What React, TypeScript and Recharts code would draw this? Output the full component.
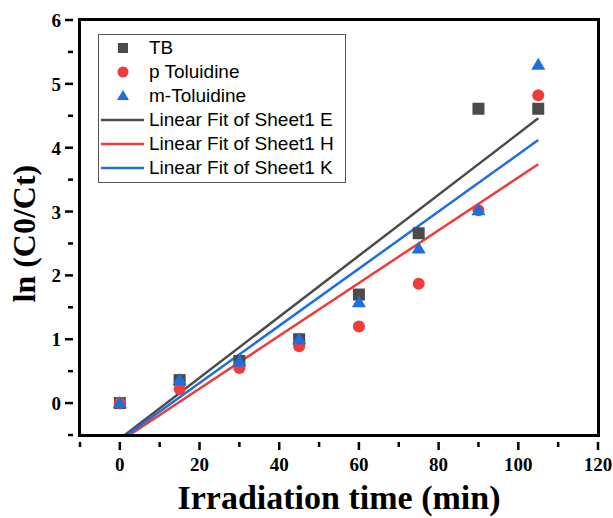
import React from 'react';
import { ComposedChart, Scatter, Line, XAxis, YAxis, Legend } from 'recharts';

const times = [0, 15, 30, 45, 60, 75, 90, 105];
const tbValues = [0, 0.36, 0.66, 1.0, 1.7, 2.66, 4.61, 4.61];
const pToluidineValues = [0, 0.22, 0.55, 0.89, 1.2, 1.87, 3.02, 4.82];
const mToluidineValues = [0, 0.36, 0.65, 1.0, 1.58, 2.42, 3.02, 5.3];

// linear fit end points (x = 0 and x = 105)
const fitX = [0, 105];
const fitE = [-0.56, 4.46];
const fitH = [-0.6, 3.74];
const fitK = [-0.58, 4.12];

const xTicks = [-10, 0, 10, 20, 30, 40, 50, 60, 70, 80, 90, 100, 110, 120];
const yTicks = [-0.5, 0, 0.5, 1, 1.5, 2, 2.5, 3, 3.5, 4, 4.5, 5, 5.5, 6];

const GRAY = '#4b4b4b';
const RED = '#ef3b3b';
const BLUE = '#1d6fdc';

const toPoints = (xs: number[], ys: number[]) => xs.map((x, i) => ({ x, y: ys[i] }));

const tbData = toPoints(times, tbValues);
const pData = toPoints(times, pToluidineValues);
const mData = toPoints(times, mToluidineValues);
const fitEData = toPoints(fitX, fitE);
const fitHData = toPoints(fitX, fitH);
const fitKData = toPoints(fitX, fitK);

const Square = (props: any) => (
  <rect x={props.cx - 6} y={props.cy - 6} width={12} height={12} fill={GRAY} />
);
const Circle = (props: any) => <circle cx={props.cx} cy={props.cy} r={6} fill={RED} />;
const Triangle = (props: any) => (
  <polygon
    points={`${props.cx},${props.cy - 7} ${props.cx + 7},${props.cy + 5} ${props.cx - 7},${props.cy + 5}`}
    fill={BLUE}
  />
);

const XTick = (props: any) => {
  const { x, y, payload } = props;
  const major = payload.value % 20 === 0;
  return (
    <g>
      <line x1={x} x2={x} y1={y - 1} y2={y + (major ? 7 : 4)} stroke="#000" strokeWidth={2.5} />
      {major && (
        <text x={x} y={y + 28} textAnchor="middle" fontFamily="Liberation Serif" fontWeight="bold" fontSize={19} fill="#000">
          {payload.value}
        </text>
      )}
    </g>
  );
};

const YTick = (props: any) => {
  const { x, y, payload } = props;
  const major = Number.isInteger(payload.value);
  return (
    <g>
      <line x1={x + 1} x2={x - (major ? 7 : 4)} y1={y} y2={y} stroke="#000" strokeWidth={2.5} />
      {major && (
        <text x={x - 11} y={y + 7} textAnchor="end" fontFamily="Liberation Serif" fontWeight="bold" fontSize={19} fill="#000">
          {payload.value}
        </text>
      )}
    </g>
  );
};

const legendItems = [
  { label: 'TB', kind: 'square', color: GRAY },
  { label: 'p Toluidine', kind: 'circle', color: RED },
  { label: 'm-Toluidine', kind: 'triangle', color: BLUE },
  { label: 'Linear Fit of Sheet1 E', kind: 'line', color: GRAY },
  { label: 'Linear Fit of Sheet1 H', kind: 'line', color: RED },
  { label: 'Linear Fit of Sheet1 K', kind: 'line', color: BLUE },
];

const LegendBox = () => (
  <div
    style={{
      border: '1px solid #555',
      background: '#fff',
      width: 248,
      height: 149,
      boxSizing: 'border-box',
      paddingTop: 1,
      fontFamily: 'Liberation Sans, Arial, sans-serif',
      fontSize: 19,
      lineHeight: '24px',
      color: '#000',
    }}
  >
    {legendItems.map((item) => (
      <div key={item.label} style={{ display: 'flex', alignItems: 'center', height: 24 }}>
        <svg width={50} height={24} style={{ flex: 'none' }}>
          {item.kind === 'square' && <rect x={19} y={7} width={10} height={10} fill={item.color} />}
          {item.kind === 'circle' && <circle cx={24} cy={12} r={5.5} fill={item.color} />}
          {item.kind === 'triangle' && <polygon points="24,6 30,16 18,16" fill={item.color} />}
          {item.kind === 'line' && <line x1={2} x2={45} y1={12} y2={12} stroke={item.color} strokeWidth={2.5} />}
        </svg>
        <span style={{ whiteSpace: 'nowrap' }}>{item.label}</span>
      </div>
    ))}
  </div>
);

export default function App() {
  return (
    <div style={{ width: 613, height: 518, position: 'relative', background: '#fff' }}>
      <style>{`body { margin: 0; }`}</style>
      <ComposedChart width={613} height={518} margin={{ top: 20, right: 15, bottom: 0, left: 20 }}>
        <XAxis
          type="number"
          dataKey="x"
          domain={[-10, 120]}
          ticks={xTicks}
          interval={0}
          allowDataOverflow
          axisLine={false}
          tickLine={false}
          tick={<XTick />}
          height={83}
          label={{
            value: 'Irradiation time (min)',
            position: 'insideBottom',
            offset: 9,
            style: { fontFamily: 'Liberation Serif', fontWeight: 'bold', fontSize: 34, fill: '#000' },
          }}
        />
        <YAxis
          type="number"
          dataKey="y"
          domain={[-0.5, 6]}
          ticks={yTicks}
          interval={0}
          allowDataOverflow
          axisLine={false}
          tickLine={false}
          tick={<YTick />}
          width={60}
          label={{
            value: 'ln (C0/Ct)',
            angle: -90,
            position: 'insideLeft',
            offset: 4,
            dy: 75,
            style: { fontFamily: 'Liberation Serif', fontWeight: 'bold', fontSize: 32, fill: '#000' },
          }}
        />
        <Line data={fitEData} dataKey="y" stroke={GRAY} strokeWidth={2.5} dot={false} isAnimationActive={false} legendType="none" />
        <Line data={fitHData} dataKey="y" stroke={RED} strokeWidth={2.5} dot={false} isAnimationActive={false} legendType="none" />
        <Line data={fitKData} dataKey="y" stroke={BLUE} strokeWidth={2.5} dot={false} isAnimationActive={false} legendType="none" />
        <Scatter data={tbData} dataKey="y" shape={Square} isAnimationActive={false} />
        <Scatter data={pData} dataKey="y" shape={Circle} isAnimationActive={false} />
        <Scatter data={mData} dataKey="y" shape={Triangle} isAnimationActive={false} />
        <Legend
          content={<LegendBox />}
          layout="horizontal"
          verticalAlign="middle"
          align="center"
          wrapperStyle={{ left: 98, top: 34, width: 248 }}
        />
      </ComposedChart>
      {/* plot frame around the plot area (x 80..598, y 20..435) */}
      <div
        style={{
          position: 'absolute',
          left: 78,
          top: 18,
          width: 522,
          height: 419,
          border: '3px solid #000',
          boxSizing: 'border-box',
          pointerEvents: 'none',
        }}
      />
    </div>
  );
}
